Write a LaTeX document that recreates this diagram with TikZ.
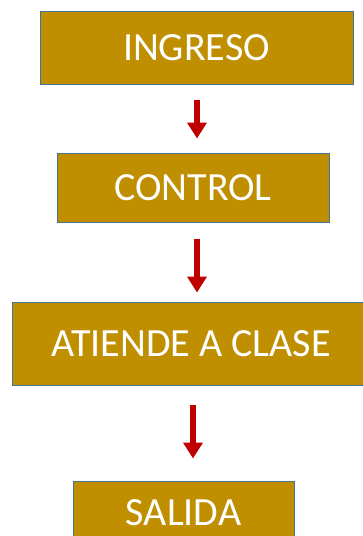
\documentclass[tikz,border=0pt]{standalone}
\usepackage{fontspec}
\setmainfont{Carlito}
\usetikzlibrary{arrows.meta}
\definecolor{oro}{HTML}{BF8F00}
\definecolor{borde}{HTML}{41719C}
\definecolor{rojo}{HTML}{C00000}
\tikzstyle{caja}=[rectangle,draw=borde,line width=1pt,fill=oro,text=white,inner sep=0pt,font=\fontsize{40}{44}\selectfont]
\tikzstyle{flecha}=[draw=rojo,line width=6.7pt,-{Triangle[width=19pt,length=16pt]},rojo]

\begin{document}
\begin{tikzpicture}[x=1pt,y=-1pt]
\useasboundingbox (0,0) rectangle (363,536);

\node [caja, minimum width=313pt, minimum height=73pt] (ingreso) at (196.5,47.5) {INGRESO};
\node [caja, minimum width=272pt, minimum height=69pt] (control) at (193,187.5) {CONTROL};
\node [caja, minimum width=358pt, minimum height=83pt] (atiende) at (191,343.5) {ATIENDE A CLASE};
\node [caja, minimum width=221pt, minimum height=64pt] (salida) at (183.5,513) {SALIDA};

\draw [flecha, shorten <=15pt, shorten >=14pt] ([xshift=0.5pt]ingreso.south) -- ([xshift=4pt]control.north);
\draw [flecha, shorten <=16pt, shorten >=9pt] ([xshift=4pt]control.south) -- ([xshift=6pt]atiende.north);
\draw [flecha, shorten <=19pt, shorten >=22pt] ([xshift=2pt]atiende.south) -- ([xshift=9.5pt]salida.north);

\end{tikzpicture}
\end{document}
